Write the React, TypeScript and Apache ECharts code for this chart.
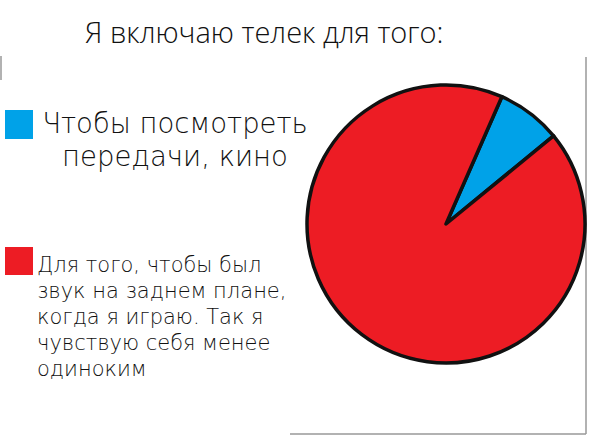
import React, { useEffect, useRef } from "react";
import * as echarts from "echarts";

const titleText = "Я включаю телек для того:";
const categories = [
  "Чтобы посмотреть\nпередачи, кино",
  "Для того, чтобы был\nзвук на заднем плане,\nкогда я играю. Так я\nчувствую себя менее\nодиноким",
];
const values = [7.5, 92.5];
const colors = ["#00A2E8", "#ED1C24"];

const FONT = "'Open Sans', 'Noto Sans', sans-serif";
const WIDE = "'DejaVu Sans', 'Open Sans', sans-serif";

export default function App() {
  const ref = useRef<HTMLDivElement>(null);
  useEffect(() => {
    if (!ref.current) return;
    const chart = echarts.init(ref.current, undefined, { renderer: "svg" });
    chart.setOption({
      animation: false,
      backgroundColor: "#ffffff",
      title: {
        text: titleText,
        left: 80,
        top: 12,
        textStyle: { fontFamily: FONT, fontSize: 29, fontWeight: 300, color: "#111" },
      },
      series: [
        {
          type: "pie",
          center: [446, 224],
          radius: 139,
          startAngle: 66.3,
          clockwise: true,
          label: { show: false },
          labelLine: { show: false },
          emphasis: { disabled: true },
          itemStyle: { borderColor: "#111", borderWidth: 3.5 },
          data: categories.map((name, i) => ({
            name,
            value: values[i],
            itemStyle: { color: colors[i] },
          })),
        },
      ],
      graphic: [
        { type: "line", shape: { x1: 1, y1: 56, x2: 1, y2: 80 }, style: { stroke: "#999", lineWidth: 1.5 } },
        { type: "line", shape: { x1: 586, y1: 57, x2: 586, y2: 434 }, style: { stroke: "#999", lineWidth: 1.5 } },
        { type: "line", shape: { x1: 290, y1: 434, x2: 586, y2: 434 }, style: { stroke: "#999", lineWidth: 1.5 } },
        { type: "rect", shape: { x: 5, y: 110, width: 28, height: 29 }, style: { fill: colors[0] } },
        {
          type: "text",
          x: 175,
          y: 106,
          style: {
            text: categories[0],
            fontFamily: WIDE,
            fontSize: 27.5,
            fontWeight: 200,
            lineHeight: 33,
            align: "center",
            verticalAlign: "top",
            fill: "#111",
          },
        },
        { type: "rect", shape: { x: 5, y: 247, width: 28, height: 28 }, style: { fill: colors[1] } },
        {
          type: "text",
          x: 37,
          y: 252,
          style: {
            text: categories[1],
            fontFamily: WIDE,
            fontSize: 21,
            fontWeight: 200,
            lineHeight: 26,
            align: "left",
            verticalAlign: "top",
            fill: "#111",
          },
        },
      ],
    });
    return () => chart.dispose();
  }, []);
  return (
    <div
      ref={ref}
      style={{ position: "absolute", left: 0, top: 0, width: 590, height: 435 }}
    />
  );
}
